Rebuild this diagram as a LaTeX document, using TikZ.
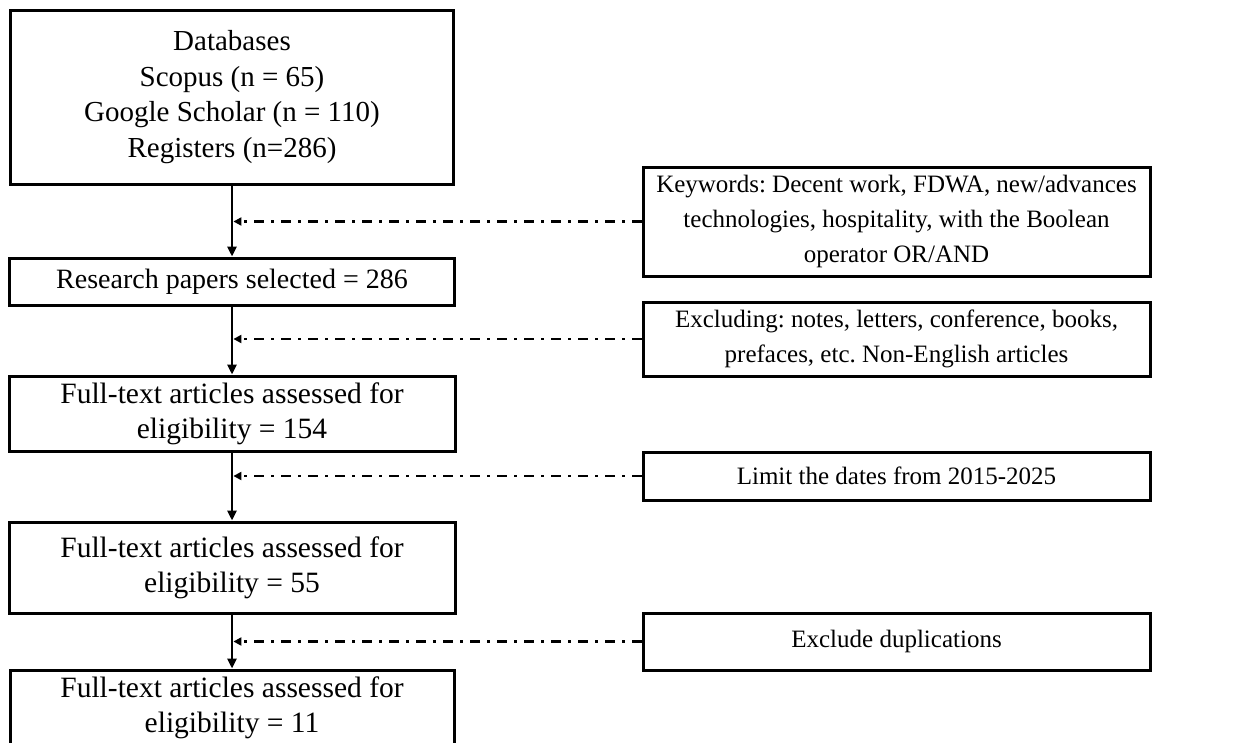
\documentclass[tikz,border=0pt]{standalone}
\usepackage{fontspec}
\setmainfont{Liberation Serif}
\usetikzlibrary{arrows.meta}
\frenchspacing
\begin{document}
\begin{tikzpicture}[x=1pt,y=-1pt,
  box/.style={draw=black,line width=3pt,inner sep=0pt,align=center,
    font=\fontsize{25}{35}\selectfont},
  lbox/.style={box,font=\fontsize{29.5}{35}\selectfont},
  flow/.style={draw=black,line width=2.8pt,-{Triangle[length=10pt,width=9pt]}},
  dd/.style={draw=black,line width=2.8pt,dash pattern=on 10pt off 7pt on 3pt off 7pt,
    -{Triangle[length=8pt,width=8pt]}}]
\clip (0,0) rectangle (1247,742);
\useasboundingbox (0,0) rectangle (1247,742);
% left column
\node[lbox,font=\fontsize{29}{35.5}\selectfont,minimum width=443pt,minimum height=174pt] (b1) at (232,97)
  {Databases\\Scopus (n = 65)\\Google Scholar (n = 110)\\Registers (n=286)};
\node[lbox,font=\fontsize{28}{35}\selectfont,minimum width=445pt,minimum height=47pt] (b2) at (232,281.5)
  {Research papers selected = 286};
\node[lbox,minimum width=446pt,minimum height=75pt] (b3) at (232,413.5)
  {Full-text articles assessed for\\eligibility = 154};
\node[lbox,minimum width=446pt,minimum height=91pt] (b4) at (232,567.5)
  {Full-text articles assessed for\\eligibility = 55};
\node[lbox,minimum width=444pt,minimum height=75pt] (b5) at (232,707.5)
  {Full-text articles assessed for\\eligibility = 11};
% right column
\node[box,minimum width=507pt,minimum height=109pt] (k1) at (896.5,221.5)
  {Keywords: Decent work, FDWA, new/advances\\technologies, hospitality, with the Boolean\\operator OR/AND};
\node[box,minimum width=507pt,minimum height=74pt] (k2) at (896.5,339)
  {Excluding: notes, letters, conference, books,\\prefaces, etc. Non-English articles};
\node[box,minimum width=507pt,minimum height=48pt] (k3) at (896.5,476)
  {Limit the dates from 2015-2025};
\node[box,minimum width=507pt,minimum height=57pt] (k4) at (896.5,641.5)
  {Exclude duplications};
% vertical flow
\draw[flow] (b1.south) -- (b2.north);
\draw[flow] (b2.south) -- (b3.north);
\draw[flow] (b3.south) -- (b4.north);
\draw[flow] (b4.south) -- (b5.north);
% dash-dot side connectors
\coordinate (j1) at (k1.west -| b1.south);
\coordinate (j2) at (k2.west -| b2.south);
\coordinate (j3) at (k3.west -| b3.south);
\coordinate (j4) at (k4.west -| b4.south);
\draw[dd] (k1.west) -- ([xshift=1.4pt]j1);
\draw[dd] (k2.west) -- ([xshift=1.4pt]j2);
\draw[dd] (k3.west) -- ([xshift=1.4pt]j3);
\draw[dd] (k4.west) -- ([xshift=1.4pt]j4);
\end{tikzpicture}
\end{document}
